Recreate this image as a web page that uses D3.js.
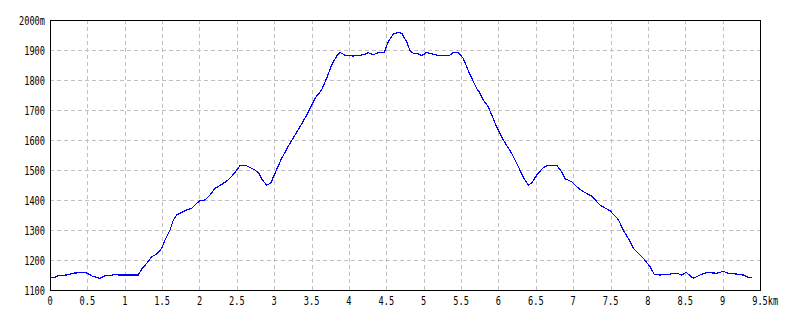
<!DOCTYPE html>
<html>
<head>
<meta charset="utf-8">
<script src="https://cdn.jsdelivr.net/npm/d3@7"></script>
<style>
  body { margin: 0; background: #fff; }
  .lbl { font-family: "DejaVu Sans Mono", "Liberation Mono", monospace; font-size: 12px; fill: #000; }
</style>
</head>
<body>
<script>
"use strict";

// distance along the route (km) and elevation (m)
var distKm = [0, 0.067, 0.111, 0.223, 0.312, 0.468, 0.5, 0.557, 0.624, 0.669, 0.736, 0.803, 0.87, 0.914,
  1.181, 1.226, 1.294, 1.361, 1.428, 1.494, 1.539, 1.606, 1.65, 1.695, 1.762, 1.829, 1.896, 1.963,
  2.007, 2.074, 2.141, 2.208, 2.297, 2.386, 2.453, 2.542, 2.632, 2.743, 2.8, 2.832, 2.899, 2.953,
  3.01, 3.1, 3.211, 3.345, 3.435, 3.546, 3.635, 3.702, 3.769, 3.836, 3.88, 3.947,
  4.058, 4.192, 4.258, 4.325, 4.392, 4.472, 4.526, 4.593, 4.66, 4.705, 4.772, 4.817, 4.861, 4.95, 4.972,
  5.04, 5.128, 5.218, 5.352, 5.396, 5.463, 5.53, 5.619, 5.709, 5.753, 5.797, 5.864, 5.976,
  6.065, 6.177, 6.266, 6.342, 6.4, 6.445, 6.512, 6.6, 6.667, 6.779, 6.846, 6.891, 6.98,
  7.047, 7.136, 7.248, 7.359, 7.493, 7.604, 7.671, 7.738, 7.805, 7.938,
  8.028, 8.086, 8.162, 8.296, 8.385, 8.452, 8.51, 8.607, 8.697, 8.786, 8.92,
  9.009, 9.075, 9.188, 9.276, 9.343, 9.397];
var elevM = [1142, 1142, 1148, 1150, 1156, 1159, 1156, 1147, 1142, 1139, 1148, 1147, 1153, 1150,
  1150, 1169, 1189, 1211, 1220, 1239, 1267, 1300, 1333, 1350, 1358, 1367, 1372, 1389,
  1398, 1400, 1417, 1439, 1452, 1467, 1485, 1514, 1514, 1500, 1487, 1469, 1450, 1456,
  1489, 1539, 1589, 1644, 1683, 1739, 1767, 1806, 1850, 1880, 1892, 1883,
  1880, 1884, 1891, 1884, 1891, 1891, 1928, 1953, 1959, 1956, 1928, 1898, 1889, 1886, 1881,
  1892, 1886, 1881, 1883, 1892, 1891, 1872, 1818, 1772, 1756, 1733, 1711, 1644,
  1600, 1556, 1511, 1472, 1450, 1456, 1483, 1508, 1516, 1516, 1494, 1471, 1461,
  1444, 1428, 1413, 1383, 1364, 1335, 1300, 1272, 1239, 1206,
  1178, 1152, 1150, 1153, 1156, 1150, 1159, 1139, 1150, 1158, 1156,
  1162, 1156, 1153, 1150, 1142, 1142];

var kmTicks = [0, 0.5, 1, 1.5, 2, 2.5, 3, 3.5, 4, 4.5, 5, 5.5, 6, 6.5, 7, 7.5, 8, 8.5, 9, 9.5];
var kmLabels = ["0", "0.5", "1", "1.5", "2", "2.5", "3", "3.5", "4", "4.5", "5", "5.5", "6", "6.5", "7", "7.5", "8", "8.5", "9", "9.5km"];
var elevTicks = [1100, 1200, 1300, 1400, 1500, 1600, 1700, 1800, 1900, 2000];
var elevLabels = ["1100", "1200", "1300", "1400", "1500", "1600", "1700", "1800", "1900", "2000m"];

var width = 800, height = 320;
var plotL = 50, plotT = 20, plotR = 760, plotB = 290;
var squeeze = 0.72;          // narrow bitmap-like glyphs
var charW = 7.2 * squeeze;

var x = d3.scaleLinear().domain([0, 9.5]).range([plotL, plotR]);
var y = d3.scaleLinear().domain([1100, 2000]).range([plotB, plotT]);

var svg = d3.select("body").append("svg")
  .attr("width", width)
  .attr("height", height);

svg.append("rect").attr("width", width).attr("height", height).attr("fill", "#fff");

// grid
svg.selectAll(".vgrid")
  .data(kmTicks.slice(1, -1))
  .enter().append("line")
    .attr("x1", function (d) { return Math.round(x(d)) + 0.5; })
    .attr("x2", function (d) { return Math.round(x(d)) + 0.5; })
    .attr("y1", plotT)
    .attr("y2", plotB)
    .attr("stroke", "#c0c0c0")
    .attr("stroke-dasharray", "4,3");

svg.selectAll(".hgrid")
  .data(elevTicks.slice(1, -1))
  .enter().append("line")
    .attr("y1", function (d) { return Math.round(y(d)) + 0.5; })
    .attr("y2", function (d) { return Math.round(y(d)) + 0.5; })
    .attr("x1", plotL)
    .attr("x2", plotR)
    .attr("stroke", "#c0c0c0")
    .attr("stroke-dasharray", "4,3");

// profile line
var line = d3.line()
  .x(function (d, i) { return x(distKm[i]); })
  .y(function (d) { return y(d); });

svg.append("path")
  .datum(elevM)
  .attr("d", line)
  .attr("fill", "none")
  .attr("stroke", "#0000ff")
  .attr("stroke-width", 1.2)
  .attr("shape-rendering", "crispEdges");

// frame
svg.append("rect")
  .attr("x", plotL + 0.5)
  .attr("y", plotT + 0.5)
  .attr("width", plotR - plotL)
  .attr("height", plotB - plotT)
  .attr("fill", "none")
  .attr("stroke", "#000");

// x labels ("km" hangs after the last number)
svg.selectAll(".xl")
  .data(kmTicks)
  .enter().append("text")
    .attr("class", "lbl")
    .attr("text-anchor", function (d, i) { return i === kmTicks.length - 1 ? "start" : "middle"; })
    .attr("transform", function (d, i) {
      var px = x(d);
      if (i === kmTicks.length - 1) px -= 1.5 * charW;
      return "translate(" + px + ",305) scale(" + squeeze + ",1)";
    })
    .text(function (d, i) { return kmLabels[i]; });

// y labels
svg.selectAll(".yl")
  .data(elevTicks)
  .enter().append("text")
    .attr("class", "lbl")
    .attr("text-anchor", "end")
    .attr("transform", function (d) {
      return "translate(45," + (y(d) + 4.5) + ") scale(" + squeeze + ",1)";
    })
    .text(function (d, i) { return elevLabels[i]; });
</script>
</body>
</html>
